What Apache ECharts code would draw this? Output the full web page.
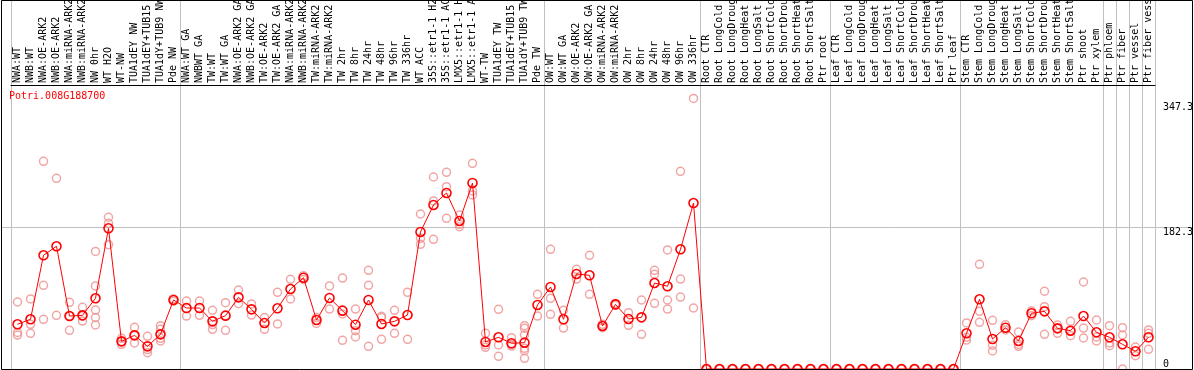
<!DOCTYPE html>
<html>
<head>
<meta charset="utf-8">
<script src="https://cdn.jsdelivr.net/npm/echarts@6/dist/echarts.min.js"></script>
<style>
html,body{margin:0;padding:0;background:#fff;}
#chart{width:1194px;height:370px;}
</style>
</head>
<body>
<div id="chart"></div>
<script>
const geneTitle = 'Potri.008G188700';

const categories = [
  'NWA:WT','NWB:WT','NWA:OE-ARK2','NWB:OE-ARK2','NWA:miRNA-ARK2','NWB:miRNA-ARK2','NW 0hr','WT H2O','WT-NW','TUA1dEY NW','TUA1dEY+TUB15','TUA1dY+TUB9 NW','Pde NW',
  'NWA:WT GA','NWBWT GA','TW:WT','TW:WT GA','NWA:OE-ARK2 GA','NWB:OE-ARK2 GA','TW:OE-ARK2','TW:OE-ARK2 GA','NWA:miRNA-ARK2','NWB:miRNA-ARK2','TW:miRNA-ARK2','TW:miRNA-ARK2',
  'TW 2hr','TW 8hr','TW 24hr','TW 48hr','TW 96hr','TW 336hr','WT ACC','35S::etr1-1 H2O','35S::etr1-1 ACC','LMX5::etr1-1 H2O','LMX5::etr1-1 ACC','WT-TW','TUA1dEY TW','TUA1dEY+TUB15','TUA1dY+TUB9 TW','Pde TW',
  'OW:WT','OW:WT GA','OW:OE-ARK2','OW:OE-ARK2 GA','OW:miRNA-ARK2','OW:miRNA-ARK2','OW 2hr','OW 8hr','OW 24hr','OW 48hr','OW 96hr','OW 336hr',
  'Root CTR','Root LongCold','Root LongDrought','Root LongHeat','Root LongSalt','Root ShortCold','Root ShortDrought','Root ShortHeat','Root ShortSalt','Ptr root',
  'Leaf CTR','Leaf LongCold','Leaf LongDrought','Leaf LongHeat','Leaf LongSalt','Leaf ShortCold','Leaf ShortDrought','Leaf ShortHeat','Leaf ShortSalt','Ptr leaf',
  'Stem CTR','Stem LongCold','Stem LongDrought','Stem LongHeat','Stem LongSalt','Stem ShortCold','Stem ShortDrought','Stem ShortHeat','Stem ShortSalt','Ptr shoot','Ptr xylem',
  'Ptr phloem','Ptr fiber','Ptr vessel','Ptr fiber vessel'
];

// group boundaries (index of first category of each group)
const groupStarts = [0, 13, 41, 53, 63, 73, 84, 85, 86, 87];

const meanValues = [
  57.4, 63.8, 146, 157.5, 68, 68.9, 90.8, 180.6, 35.5, 43.2, 29.1, 44.5, 88.6,
  78.3, 78.3, 61.2, 68.5, 92, 76.6, 59.1, 77.9, 102.7, 117.2, 62.9, 91.2,
  74.9, 56.9, 88.6, 57.8, 61.2, 69.3, 175.9, 210.6, 226, 190, 238.8, 34.7, 40.7, 33, 33.8, 82.2,
  105.3, 63.8, 122, 120.3, 55.2, 83, 64.2, 66.3, 110.4, 106.2, 153.7, 213.1,
  0, 0, 0, 0, 0, 0, 0, 0, 0, 0,
  0, 0, 0, 0, 0, 0, 0, 0, 0, 0,
  45.8, 89.5, 38.5, 53, 36, 71.5, 74, 52.2, 49.2, 68, 47.1,
  40.7, 31.7, 22.7, 40.7
];

const replicateValues = [
  [86, 47, 43.6], [89.9, 57.4, 45.8], [266.6, 107.4, 63.8], [244.8, 68.9], [85.6, 68, 49.6], [79.2, 68, 61.6],
  [151, 106.6, 75.7, 66, 56.5], [194.8, 187, 159.6], [39.4, 35, 31.7], [53.5, 43, 33.4], [42, 25, 21],
  [55.6, 51, 39.4, 36], [90, 87],
  [87.3, 68], [87.3, 68.9], [75.3, 57, 50.9], [85.2, 49.6], [101.4, 83.9], [83.5, 69.3], [66, 50.9], [98.4, 57.8],
  [115.1, 89.9], [119.8, 115], [66, 58.5], [106.6, 77],
  [116.8, 70.6, 36.8], [77, 49.2, 41.1], [126.7, 107.4, 29.1], [67.7, 66, 38.1], [75.3, 45.8], [98.4, 38.1],
  [199, 167.8, 160.1], [246.5, 215.7, 166.5], [252.5, 234, 193.5], [197.7, 185.8, 182.7], [264, 228.5, 223.4],
  [45.8, 30.8, 27.9], [76.6, 30.8, 16.3], [40.2, 31.7, 29.5], [55.6, 52.3, 43.7, 26.6, 23.5, 13.7], [95.9, 68],
  [153.7, 90.8, 70.2], [75.3, 52.6], [128, 115.5], [146, 95.9], [57.4, 53], [84, 82], [72.3, 56.1], [88.6, 44.5],
  [126.7, 121.6, 84.3], [152.8, 88.6, 77], [253.8, 115.5, 92.4], [347.3, 78.3],
  [0, 0, 0], [0, 0, 0], [0, 0, 0], [0, 0, 0], [0, 0, 0], [0, 0, 0], [0, 0, 0], [0, 0, 0], [0, 0, 0], [0, 0, 0],
  [0, 0, 0], [0, 0, 0], [0, 0, 0], [0, 0, 0], [0, 0, 0], [0, 0, 0], [0, 0, 0], [0, 0, 0], [0, 0, 0], [0, 0, 0],
  [59.1, 40.7, 37.2], [134.4, 74, 59.9], [62.5, 30.4, 23.1], [56.9, 50.1], [47.5, 31.5, 29.1], [74.5, 68.4],
  [99.8, 80, 44.5], [56.5, 52, 45.8], [61.2, 49, 42.8], [111.7, 52.6, 39.8], [62.9, 41.1, 36],
  [55.6, 33.4, 29.9], [53, 43.6, 0], [28.2, 17.1], [50.1, 45.8, 25.3]
];

const yMidTick = 182.3;
const yAxisTop = 364.6;          // plotted range top (data max * 1.05)
const yMidLabel = [182.3];
const yMaxLabel = [347.3];
const yZeroLabel = [0];

const FONT = 'DejaVu Sans Mono';
const headerPx = 85, plotPx = 284;
const gridYMax = yAxisTop * (headerPx + plotPx) / plotPx;

const repPoints = [];
replicateValues.forEach((arr, i) => arr.forEach(v => repPoints.push([i, v])));

function labelAxis(values, vAlign, pad) {
  return {
    type: 'value', gridIndex: 0, position: 'right', min: 0, max: gridYMax,
    axisLine: {show: false, onZero: false}, axisTick: {show: false}, splitLine: {show: false},
    axisLabel: {show: true, customValues: values, margin: 8, align: 'left', verticalAlign: vAlign,
      padding: pad, fontFamily: FONT, fontSize: 10, color: '#000'}
  };
}

const chart = echarts.init(document.getElementById('chart'), null, {renderer: 'canvas'});
chart.setOption({
  animation: false,
  backgroundColor: '#fff',
  title: {
    text: geneTitle, left: 9, top: 91, padding: 0,
    textStyle: {fontFamily: FONT, fontSize: 10, fontWeight: 'normal', color: '#ff0000'}
  },
  grid: [
    {left: 11, right: 39, top: 0, bottom: 1, show: false, containLabel: false, outerBoundsMode: 'none'},
    {left: 1, right: 2, top: 85, bottom: 1, show: false, containLabel: false, outerBoundsMode: 'none'}
  ],
  xAxis: [
    {
      type: 'category', gridIndex: 0, data: categories, position: 'top', offset: -85,
      boundaryGap: true,
      axisLine: {show: true, onZero: false, lineStyle: {color: '#000', width: 1}},
      axisTick: {show: false},
      axisLabel: {show: true, rotate: -90, align: 'left', verticalAlign: 'middle', interval: 0, margin: 2, hideOverlap: false,
        fontFamily: FONT, fontSize: 10, color: '#000'},
      splitLine: {show: true, interval: (idx) => groupStarts.indexOf(idx) >= 0, lineStyle: {color: '#c0c0c0', width: 1}}
    },
    {type: 'value', gridIndex: 1, min: 0, max: 1, show: false}
  ],
  yAxis: [
    labelAxis(yMidLabel, 'top', [0, 0, 0, 0]),
    labelAxis(yMaxLabel, 'top', [4, 0, 0, 0]),
    labelAxis(yZeroLabel, 'bottom', [0, 0, 0, 0]),
    {
      type: 'value', gridIndex: 1, min: 0, max: yAxisTop, interval: yMidTick,
      axisLine: {show: false, onZero: false}, axisTick: {show: false}, axisLabel: {show: false},
      splitLine: {show: true, showMinLine: false, showMaxLine: false, lineStyle: {color: '#c0c0c0', width: 1}}
    }
  ],
  series: [
    {
      name: 'replicates', type: 'scatter', xAxisIndex: 0, yAxisIndex: 0,
      data: repPoints, symbol: 'circle', symbolSize: 8, z: 2,
      itemStyle: {color: 'rgba(0,0,0,0)', borderColor: '#ee9090', borderWidth: 1.5}
    },
    {
      name: 'mean', type: 'line', xAxisIndex: 0, yAxisIndex: 0,
      data: meanValues, symbol: 'circle', symbolSize: 9, showSymbol: true, showAllSymbol: true, z: 3,
      lineStyle: {color: '#ff0000', width: 1},
      itemStyle: {color: 'rgba(0,0,0,0)', borderColor: '#ff0000', borderWidth: 1.6}
    }
  ],
  graphic: [
    {type: 'rect', z: 100, silent: true, shape: {x: 1.5, y: 0.5, width: 1191, height: 369},
      style: {fill: null, stroke: '#000', lineWidth: 1}}
  ]
});
</script>
</body>
</html>
